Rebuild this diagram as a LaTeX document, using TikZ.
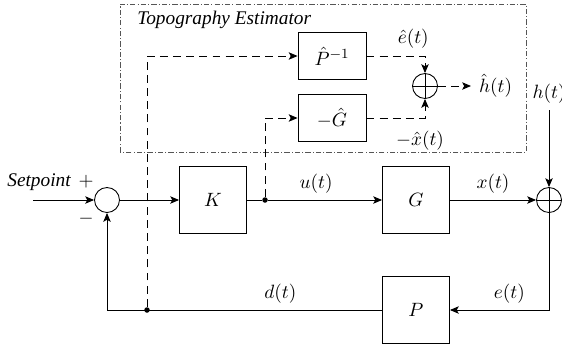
\documentclass[tikz,border=0pt]{standalone}
\usepackage{fontspec}
\usepackage{amsmath}
\usepackage{tikz}
\usetikzlibrary{arrows.meta}
\newfontfamily\lblfont{Liberation Serif}
\definecolor{frame}{HTML}{555555}

\begin{document}
\begin{tikzpicture}[x=0.2mm,y=0.2mm,font=\fontsize{11}{13}\selectfont,
 blk/.style={draw,minimum width=13.4mm,minimum height=13.4mm,inner sep=0pt},
 est/.style={draw,minimum width=13.6mm,minimum height=9.4mm,inner sep=0pt},
 sum/.style={circle,draw,minimum size=5mm,inner sep=0pt},
 dot/.style={circle,fill,inner sep=0pt,minimum size=1.1mm},
 txt/.style={font=\lblfont\itshape\fontsize{11}{13}\selectfont},
 dsh/.style={dash pattern=on 4.5pt off 3pt},
 every path/.style={line width=0.5pt},
 >={Stealth[length=5pt,width=4.2pt,inset=1.1pt]}]
\useasboundingbox (0,0) rectangle (562,352);
% estimator frame
\draw[frame,line width=0.5pt,dash pattern=on 3pt off 1.2pt on 0.6pt off 1.2pt]
 (120,200) rectangle (526,348);
\node[txt,anchor=west] (ttl) at (131,332) {Topography Estimator};
% main loop
\coordinate (in) at (33,152);
\node[sum] (s1) at (107,152) {};
\node[blk] (K) at (213,152) {$K$};
\node[dot] (b1) at (265,152) {};
\node[blk] (G) at (416,152) {$G$};
\node[sum] (s2) at (549,152) {};
\coordinate (hin) at (549,242);
\node[blk] (P) at (416,42) {$P$};
\coordinate (bl) at (107,42);
\node[dot] (b2) at (147,42) {};
% estimator
\node[est] (Pi) at (332,296) {$\hat{P}^{-1}$};
\node[est] (Gm) at (332,234) {$-\hat{G}$};
\node[sum] (s3) at (425,266) {};
\coordinate (out) at (471,266);
\node[txt,anchor=east] (sp) at (77,170) {Setpoint};
\node (pl) at (86,170) {$+$};
\node (mi) at (86,133) {$-$};
\foreach \s in {s2,s3}{\draw (\s.north)--(\s.south) (\s.west)--(\s.east);}
\draw[->] (in) -- (s1);
\draw[->] (s1) -- (K);
\draw (K) -- (b1);
\draw[->] (b1) -- node[pos=0.42,above]{$u(t)$} (G);
\draw[->] (G) -- node[above]{$x(t)$} (s2);
\draw[->] (hin) node[above]{$h(t)$} -- (s2);
\draw[->] (s2) |- node[pos=0.7,above]{$e(t)$} (P);
\draw[->] (P) -- node[pos=0.37,above]{$d(t)$} (bl) -- (s1);
\draw[dsh,->] (b2) |- (Pi);
\draw[dsh,->] (b1) |- (Gm);
\draw[dsh,->] (Pi) -| node[pos=0.4,above=1pt]{$\hat{e}(t)$} (s3);
\draw[dsh,->] (Gm) -| node[pos=0.5,below=4pt,xshift=-1mm]{$-\hat{x}(t)$} (s3);
\draw[dsh,->] (s3) -- (out) node[right=1pt]{$\hat{h}(t)$};
\end{tikzpicture}
\end{document}
